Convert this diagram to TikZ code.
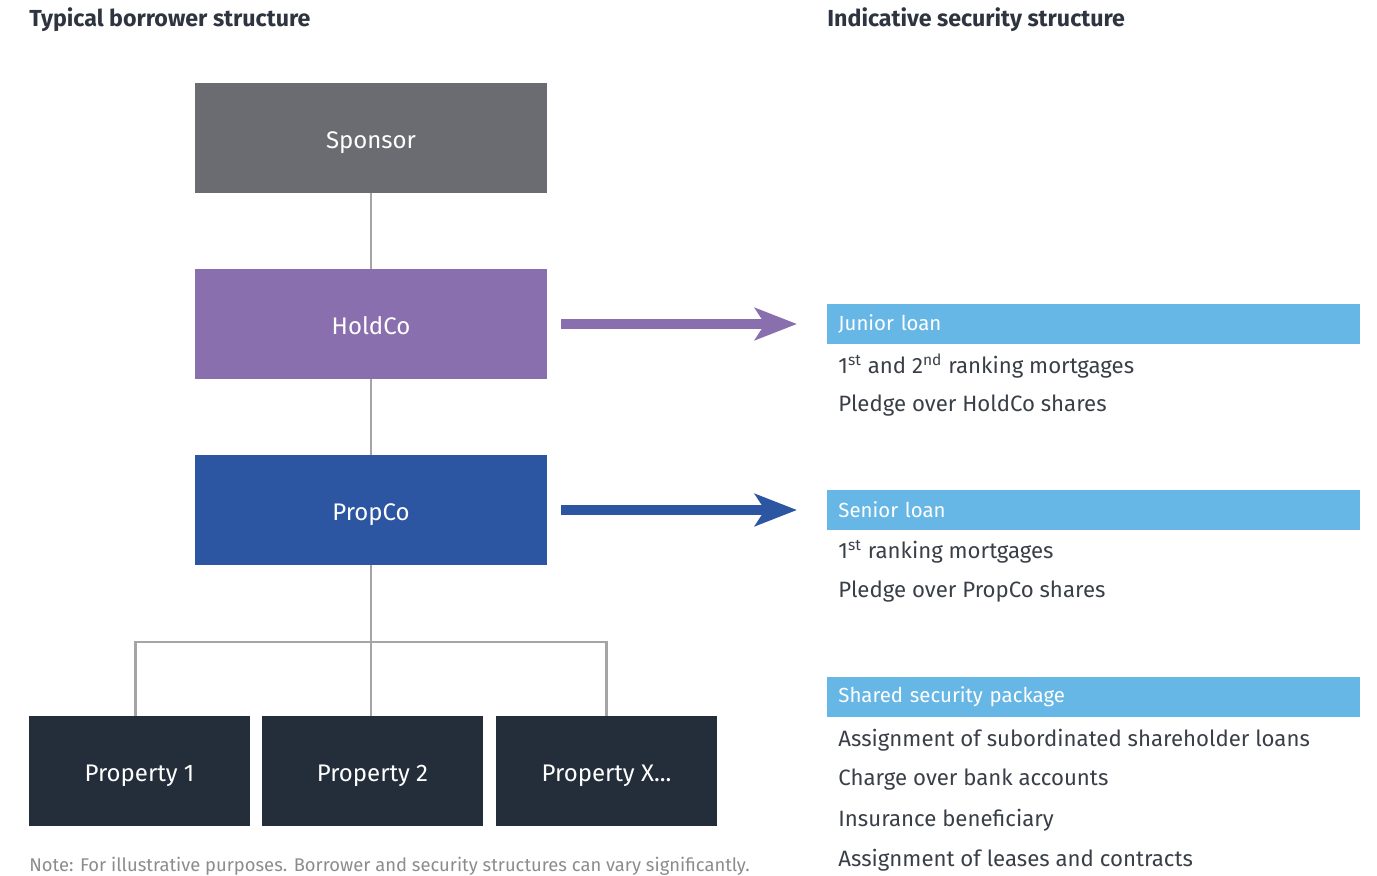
\documentclass[tikz,border=0pt]{standalone}
\usepackage{fontspec}
\setmainfont{Fira Sans}
\usetikzlibrary{arrows.meta}

\definecolor{sponsorgray}{HTML}{6B6C71}
\definecolor{holdpurple}{HTML}{8A6FAE}
\definecolor{propblue}{HTML}{2C56A2}
\definecolor{propertydark}{HTML}{242E3A}
\definecolor{barblue}{HTML}{66B6E6}
\definecolor{linkgray}{HTML}{A5A5A5}
\definecolor{itemtext}{HTML}{3A3F47}
\definecolor{notegray}{HTML}{8C8C8C}
\definecolor{headtext}{HTML}{2E3540}

\newcommand{\bw}{176pt}
\newcommand{\bh}{55pt}

\begin{document}
\begin{tikzpicture}[x=0.5pt, y=-0.5pt,
    entity/.style={rectangle, minimum width=\bw, minimum height=\bh, inner sep=0pt, text height=10pt, text depth=0pt, text=white, font=\fontsize{12}{14}\selectfont},
    property/.style={entity, fill=propertydark, minimum width=110.5pt},
    link/.style={draw=linkgray, line width=1.2pt},
    bigarrow/.style={line width=5pt, -{Stealth[length=21pt, width=16pt, inset=5pt]}},
    bar/.style={rectangle, fill=barblue, anchor=west, minimum height=20pt, text width=255.5pt, inner xsep=5.5pt, inner ysep=0pt, align=left, text=white, font=\fontsize{10.2}{12}\selectfont},
    item/.style={anchor=west, inner sep=0pt, text=itemtext, font=\fontsize{11.1}{13}\selectfont},
    heading/.style={anchor=west, inner sep=0pt, text=headtext, font=\bfseries\fontsize{11.6}{14}\selectfont}]
    \useasboundingbox (0,0) rectangle (1377,875);

    % Headings
    \node[heading] (leftTitle) at (29,20) {Typical borrower structure};
    \node[heading] (rightTitle) at (827,20) {Indicative security structure};

    % Borrower chain
    \node[entity, fill=sponsorgray] (sponsor) at (371,138) {Sponsor};
    \node[entity, fill=holdpurple] (holdco) at (371,324) {HoldCo};
    \node[entity, fill=propblue] (propco) at (371,510) {PropCo};

    % Properties
    \node[property] (prop-1) at (139.5,771) {Property 1};
    \node[property] (prop-2) at (372.5,771) {Property 2};
    \node[property] (prop-3) at (606.5,771) {Property X...};

    \draw[link] (sponsor) -- (holdco);
    \draw[link] (holdco) -- (propco);
    \coordinate (bus) at (371,642);
    \draw[link] (propco) -- (bus);
    \draw[link] (bus) -| ([xshift=-2pt]prop-1.north);
    \draw[link] (bus) -| (prop-3.north);
    \draw[link] (bus) -- (bus |- prop-2.north);

    % Security packages
    \node[bar] (junior) at (827,324) {Junior loan};
    \node[item] (junior-1) at (838,366) {1\textsuperscript{st} and 2\textsuperscript{nd} ranking mortgages};
    \node[item] (junior-2) at (838,406) {Pledge over HoldCo shares};

    \node[bar] (senior) at (827,510) {Senior loan};
    \node[item] (senior-1) at (838,552) {1\textsuperscript{st} ranking mortgages};
    \node[item] (senior-2) at (838,592) {Pledge over PropCo shares};

    \node[bar] (shared) at (827,697) {Shared security package};
    \node[item] (shared-1) at (838,740) {Assignment of subordinated shareholder loans};
    \node[item] (shared-2) at (838,780) {Charge over bank accounts};
    \node[item] (shared-3) at (838,820) {Insurance beneficiary};
    \node[item] (shared-4) at (838,860) {Assignment of leases and contracts};

    % Arrows
    \draw[bigarrow, holdpurple] ([xshift=7pt]holdco.east) -- ([xshift=-15pt]junior.west);
    \draw[bigarrow, propblue] ([xshift=7pt]propco.east) -- ([xshift=-15pt]senior.west);

    % Note
    \node[anchor=west, inner sep=0pt, text=notegray, font=\fontsize{9.2}{11}\selectfont] (note) at (29,866) {Note: For illustrative purposes. Borrower and security structures can vary significantly.};
\end{tikzpicture}
\end{document}
